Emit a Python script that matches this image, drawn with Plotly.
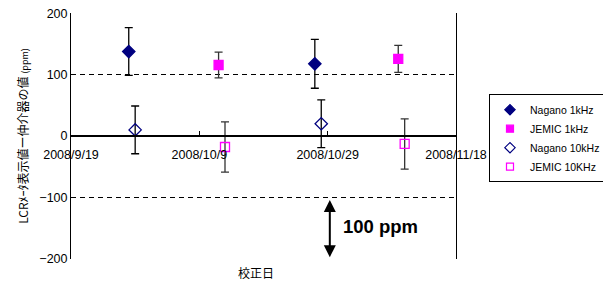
import plotly.graph_objects as go

# Data
nagano_1k_dates = ["2008-09-28", "2008-10-27"]
nagano_1k_vals = [138, 118]
nagano_1k_err = [39, 40]

jemic_1k_dates = ["2008-10-12", "2008-11-09"]
jemic_1k_vals = [116, 126]
jemic_1k_err = [21, 22]

nagano_10k_dates = ["2008-09-29", "2008-10-28"]
nagano_10k_vals = [10, 20]
nagano_10k_err = [39, 39]

jemic_10k_dates = ["2008-10-13", "2008-11-10"]
jemic_10k_vals = [-18, -13]
jemic_10k_err = [41, 41]

series_names = ["Nagano 1kHz", "JEMIC 1kHz", "Nagano 10kHz", "JEMIC 10KHz"]

x_ticks = ["2008-09-19", "2008-10-09", "2008-10-29", "2008-11-18"]
x_tick_labels = ["2008/9/19", "2008/10/9", "2008/10/29", "2008/11/18"]
y_ticks = [-200, -100, 0, 100, 200]

arrow_date = "2008-10-29 08:00"
arrow_top, arrow_bottom = -100, -200
label_date = "2008-10-31"
label_y = -148

NAVY = "#000080"
MAGENTA = "#FF00FF"

fig = go.Figure()

def add(name, dates, vals, err, symbol, color, size, errcolor, legsize):
    fig.add_trace(go.Scatter(
        x=dates, y=vals, mode="markers", name=name, showlegend=False,
        legendgroup=name,
        marker=dict(symbol=symbol, color=color, size=size,
                    line=dict(color=color, width=1.3)),
        error_y=dict(type="data", array=err, visible=True, color=errcolor,
                     thickness=1.3, width=4),
    ))
    # legend entry with smaller symbol (no data drawn)
    fig.add_trace(go.Scatter(
        x=[None], y=[None], mode="markers", name=name, legendgroup=name,
        marker=dict(symbol=symbol, color=color, size=legsize,
                    line=dict(color=color, width=1.2)),
    ))

add(series_names[0], nagano_1k_dates, nagano_1k_vals, nagano_1k_err, "diamond", NAVY, 9.5, "#000000", 8)
add(series_names[1], jemic_1k_dates, jemic_1k_vals, jemic_1k_err, "square", MAGENTA, 9, "#333333", 7)
add(series_names[2], nagano_10k_dates, nagano_10k_vals, nagano_10k_err, "diamond-open", NAVY, 9.5, "#000000", 8)
add(series_names[3], jemic_10k_dates, jemic_10k_vals, jemic_10k_err, "square-open", MAGENTA, 9, "#333333", 7)

# double-headed arrow for 100 ppm scale
fig.add_annotation(
    x=arrow_date, y=arrow_bottom + 2, ax=arrow_date, ay=arrow_top - 2,
    xref="x", yref="y", axref="x", ayref="y",
    text="", showarrow=True, arrowhead=2, arrowside="end+start",
    arrowwidth=2, arrowsize=1.2, arrowcolor="#000000",
)
fig.add_annotation(
    x=label_date, y=label_y, xref="x", yref="y", text="<b>100 ppm</b>",
    showarrow=False, xanchor="left", yanchor="middle",
    font=dict(size=18.5, color="#000000", family="Liberation Sans, Arial"),
)
fig.add_annotation(
    x=0.48, y=-0.055, xref="paper", yref="paper", text="校正日",
    showarrow=False, xanchor="center", yanchor="middle",
    font=dict(size=12, color="#000000", family="Noto Sans CJK JP"),
)

fig.update_layout(
    width=603, height=284,
    margin=dict(l=71, r=147, t=13, b=25, autoexpand=False),
    paper_bgcolor="white", plot_bgcolor="white",
    font=dict(family="Liberation Sans, Arial, Noto Sans CJK JP", size=12, color="#000000"),
    showlegend=True,
    legend=dict(
        x=1.0857, y=0.67, xanchor="left", yanchor="top",
        bordercolor="#000000", borderwidth=1, bgcolor="white",
        font=dict(size=10.5, family="Liberation Sans, Arial"),
        tracegroupgap=0, itemsizing="trace", itemwidth=30,
    ),
    xaxis=dict(
        type="date", range=["2008-09-19", "2008-11-18"],
        tickvals=x_ticks, ticktext=x_tick_labels,
        anchor="free", position=0.5, automargin=False,
        showline=True, linecolor="#000000", linewidth=1.5,
        ticks="inside", ticklen=4, tickcolor="#000000",
        ticklabelstandoff=7,
        showgrid=False, zeroline=False,
        tickfont=dict(size=12.5, family="Liberation Sans, Arial"),
    ),
    yaxis=dict(
        range=[-201, 201], tickvals=y_ticks, automargin=False,
        showline=True, linecolor="#000000", linewidth=1, mirror=True,
        showgrid=True, gridcolor="#000000", griddash="5px,4px", gridwidth=1,
        zeroline=False, ticks="",
        tickfont=dict(size=12.5, family="Liberation Sans, Arial"),
        title=dict(text="LCRﾒｰﾀ表示値ー仲介器の値 <span style='font-size:9px'>(ppm)</span>",
                   standoff=8, font=dict(size=12, family="Noto Sans CJK JP")),
    ),
)

fig.write_html("out.html", config={"displayModeBar": False},
               post_script="document.body.style.margin='0';")
